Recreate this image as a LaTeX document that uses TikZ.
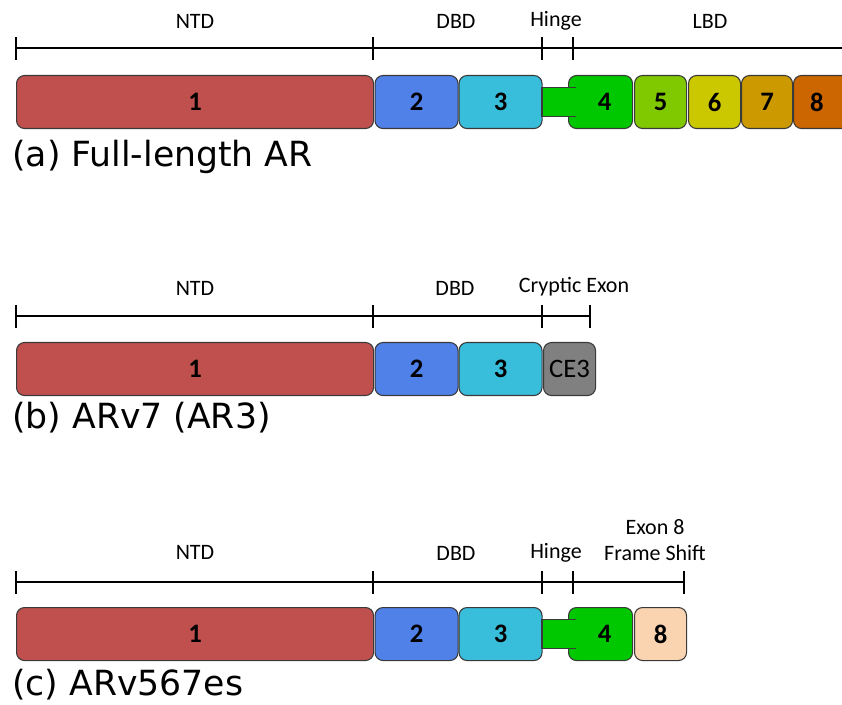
\documentclass[tikz,border=0pt]{standalone}
\usepackage{fontspec}
\setmainfont{Carlito}
\newfontfamily\capfont{DejaVu Sans}
\definecolor{cNTD}{HTML}{C0504D}
\definecolor{cTwo}{HTML}{4F81E8}
\definecolor{cThree}{HTML}{38BDDB}
\definecolor{cFour}{HTML}{00C800}
\definecolor{cFive}{HTML}{80C800}
\definecolor{cSix}{HTML}{CCC800}
\definecolor{cSeven}{HTML}{CC9A00}
\definecolor{cEight}{HTML}{CC6600}
\definecolor{cCE}{HTML}{808080}
\definecolor{cPeach}{HTML}{FAD3B0}
\definecolor{cBorder}{HTML}{3A3A3A}
\begin{document}
\begin{tikzpicture}[x=0.75pt,y=-0.75pt,
  exonbox/.style={draw=cBorder,line width=0.8pt,rounded corners=6pt,anchor=north west,
    minimum height=53*0.75pt,inner sep=0pt,font=\fontsize{20}{20}\selectfont\bfseries},
  ruler/.style={line width=1.4pt,black},
  domlabel/.style={font=\fontsize{16.5}{19}\selectfont,align=center},
  caplabel/.style={font=\capfont\fontsize{26}{28}\selectfont,anchor=west,inner sep=0pt}]
\useasboundingbox (0,0) rectangle (842,705);
% ---------------- (a) ----------------
\coordinate (ra0) at (16,48);
\coordinate (ra1) at (373,48);
\coordinate (ra2) at (542,48);
\coordinate (ra3) at (573,48);
\coordinate (ra4) at (842,48);
\draw[ruler] (ra0) -- (ra4);
\foreach \c in {ra0,ra1,ra2,ra3} \draw[ruler] (\c) ++(0,-11) -- ++(0,23);
\node[domlabel] (la1) at (195,21) {NTD};
\node[domlabel] (la2) at (456,21) {DBD};
\node[domlabel] (la3) at (556,21) {Hinge};
\node[domlabel] (la4) at (710,21) {LBD};
\node[exonbox,fill=cNTD,minimum width=357*0.75pt] (a1) at (16,75) {1};
\node[exonbox,fill=cTwo,minimum width=83*0.75pt] (a2) at (374.5,75) {2};
\node[exonbox,fill=cThree,minimum width=83*0.75pt] (a3) at (458.5,75) {3};
\node[exonbox,fill=cFour,minimum width=64*0.75pt] (a4) at (568,75) {\hspace*{6pt}4};
\draw[draw=cBorder,line width=0.8pt,fill=cFour] (542,87.5) rectangle (575,116.5);
\fill[cFour] (566,88.3) rectangle (577,115.7);
\node[exonbox,fill=cFive,minimum width=52*0.75pt] (a5) at (634,75) {5};
\node[exonbox,fill=cSix,minimum width=52*0.75pt] (a6) at (688,75) {6};
\node[exonbox,fill=cSeven,minimum width=51*0.75pt] (a7) at (741,75) {7};
\node[exonbox,fill=cEight,minimum width=60*0.75pt] (a8) at (793,75) {\hspace*{-10pt}8};
\node[caplabel] (capa) at (12,157) {(a) Full-length AR};
% ---------------- (b) ----------------
\coordinate (rb0) at (16,316);
\coordinate (rb1) at (373,316);
\coordinate (rb2) at (542,316);
\coordinate (rb3) at (590,316);
\draw[ruler] (rb0) -- (rb3);
\foreach \c in {rb0,rb1,rb2,rb3} \draw[ruler] (\c) ++(0,-11) -- ++(0,23);
\node[domlabel] (lb1) at (195,288) {NTD};
\node[domlabel] (lb2) at (455,288) {DBD};
\node[domlabel] (lb3) at (574,287) {Cryptic Exon};
\node[exonbox,fill=cNTD,minimum width=357*0.75pt] (b1) at (16,342) {1};
\node[exonbox,fill=cTwo,minimum width=83*0.75pt] (b2) at (374.5,342) {2};
\node[exonbox,fill=cThree,minimum width=83*0.75pt] (b3) at (458.5,342) {3};
\node[exonbox,fill=cCE,minimum width=52*0.75pt,font=\fontsize{20}{20}\selectfont] (b4) at (543,342) {CE3};
\node[caplabel] (capb) at (12,418) {(b) ARv7 (AR3)};
% ---------------- (c) ----------------
\coordinate (rc0) at (16,582);
\coordinate (rc1) at (373,582);
\coordinate (rc2) at (542,582);
\coordinate (rc3) at (573,582);
\coordinate (rc4) at (684,582);
\draw[ruler] (rc0) -- (rc4);
\foreach \c in {rc0,rc1,rc2,rc3,rc4} \draw[ruler] (\c) ++(0,-11) -- ++(0,23);
\node[domlabel] (lc1) at (195,552) {NTD};
\node[domlabel] (lc2) at (456,553) {DBD};
\node[domlabel] (lc3) at (556,553) {Hinge};
\node[domlabel] (lc4) at (655,540) {Exon 8\\Frame Shift};
\node[exonbox,fill=cNTD,minimum width=357*0.75pt] (c1) at (16,607) {1};
\node[exonbox,fill=cTwo,minimum width=83*0.75pt] (c2) at (374.5,607) {2};
\node[exonbox,fill=cThree,minimum width=83*0.75pt] (c3) at (458.5,607) {3};
\node[exonbox,fill=cFour,minimum width=64*0.75pt] (c4) at (568,607) {\hspace*{6pt}4};
\draw[draw=cBorder,line width=0.8pt,fill=cFour] (542,619.5) rectangle (575,648.5);
\fill[cFour] (566,620.3) rectangle (577,647.7);
\node[exonbox,fill=cPeach,minimum width=52*0.75pt] (c5) at (634,607) {8};
\node[caplabel] (capc) at (12,685) {(c) ARv567es};
\end{tikzpicture}
\end{document}
